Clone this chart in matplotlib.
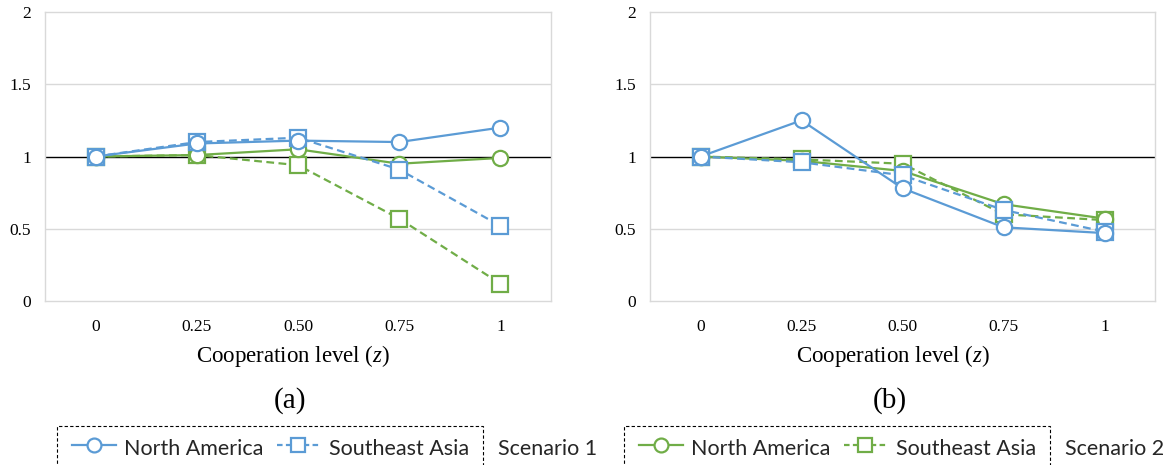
import matplotlib
matplotlib.use("Agg")
import matplotlib.pyplot as plt
from matplotlib.lines import Line2D
from matplotlib.patches import Rectangle

categories = ["0", "0.25", "0.50", "0.75", "1"]
yticks = [0, 0.5, 1, 1.5, 2]
ytick_labels = ["0", "0.5", "1", "1.5", "2"]
series_names = ["North America", "Southeast Asia"]
scenario_names = ["Scenario 1", "Scenario 2"]
panel_labels = ["(a)", "(b)"]

# Panel (a)
a_s1_na = [1.00, 1.09, 1.11, 1.10, 1.20]
a_s1_sea = [1.00, 1.10, 1.13, 0.91, 0.52]
a_s2_na = [1.00, 1.01, 1.05, 0.95, 0.99]
a_s2_sea = [1.00, 1.01, 0.94, 0.57, 0.12]

# Panel (b)
b_s1_na = [1.00, 1.25, 0.78, 0.51, 0.47]
b_s1_sea = [1.00, 0.96, 0.87, 0.63, 0.48]
b_s2_na = [1.00, 0.97, 0.90, 0.67, 0.57]
b_s2_sea = [1.00, 0.98, 0.95, 0.60, 0.56]

BLUE = "#5B9BD5"
GREEN = "#70AD47"
W, H = 1174, 465
DASH = (0, (3.5, 2))

plt.rcParams["mathtext.fontset"] = "custom"
plt.rcParams["mathtext.it"] = "Liberation Serif:italic"
plt.rcParams["mathtext.rm"] = "Liberation Serif"

fig = plt.figure(figsize=(W / 100, H / 100), dpi=100)

serif = "Liberation Serif"
sans = "Lato"

def fx(x):
    return x / W

def fy(y):
    return 1 - y / H

def px(x0, y0, x1, y1):
    return [x0 / W, 1 - y1 / H, (x1 - x0) / W, (y1 - y0) / H]

def setup(ax):
    x = list(range(len(categories)))
    ax.set_xlim(-0.5, len(categories) - 0.5)
    ax.set_ylim(0, 2)
    ax.set_xticks(x)
    ax.set_xticklabels(categories, family=serif, fontsize=12.5)
    ax.set_yticks(yticks)
    ax.set_yticklabels(ytick_labels, family=serif, fontsize=12.5)
    ax.tick_params(axis="both", length=0)
    ax.tick_params(axis="x", pad=13)
    ax.tick_params(axis="y", pad=10)
    for s in ax.spines.values():
        s.set_color("#d9d9d9")
        s.set_linewidth(1.0)
    for yv in [0.5, 1.5]:
        ax.axhline(yv, color="#d9d9d9", lw=1.0, zorder=1)
    ax.axhline(1, color="black", lw=1.0, zorder=2)
    return x

def plot_panel(ax, s1_na, s1_sea, s2_na, s2_sea):
    x = setup(ax)
    kw = dict(lw=1.6, markersize=11, markeredgewidth=1.6, markerfacecolor="white", zorder=3)
    ax.plot(x, s2_sea, color=GREEN, ls=DASH, marker="s", **kw)
    ax.plot(x, s2_na, color=GREEN, ls="-", marker="o", **kw)
    ax.plot(x, s1_sea, color=BLUE, ls=DASH, marker="s", **kw)
    ax.plot(x, s1_na, color=BLUE, ls="-", marker="o", **kw)

axa = fig.add_axes(px(45, 12, 551, 301))
axb = fig.add_axes(px(650, 12, 1155, 301))
plot_panel(axa, a_s1_na, a_s1_sea, a_s2_na, a_s2_sea)
plot_panel(axb, b_s1_na, b_s1_sea, b_s2_na, b_s2_sea)

for cx, lab in [(293, panel_labels[0]), (893, panel_labels[1])]:
    fig.text(fx(cx), fy(356), "Cooperation level ($\\mathit{z}$)", family=serif,
             fontsize=16.5, ha="center", va="center")
    fig.text(fx(cx - 3), fy(401), lab, family=serif, fontsize=21, ha="center", va="center")

# Legends (drawn in figure pixel positions)
def make_legend(color, off, scen):
    fig.add_artist(Rectangle((fx(57 + off), fy(470)), (483 - 57) / W, (470 - 426) / H,
                             transform=fig.transFigure, fill=False, edgecolor="black",
                             lw=0.8, ls=(0, (3, 2))))
    ly = fy(445)
    hkw = dict(lw=1.6, markersize=10, markeredgewidth=1.6, markerfacecolor="white",
               color=color, transform=fig.transFigure)
    fig.add_artist(Line2D([fx(72 + off), fx(116 + off)], [ly, ly], ls="-", **hkw))
    fig.add_artist(Line2D([fx(94 + off)], [ly], ls="none", marker="o", **hkw))
    fig.add_artist(Line2D([fx(277 + off), fx(320 + off)], [ly, ly], ls=(0, (2.5, 1.5)), **hkw))
    fig.add_artist(Line2D([fx(298 + off)], [ly], ls="none", marker="s", **hkw))
    fig.text(fx(124 + off), fy(455), series_names[0], family=sans, fontsize=15.5,
             ha="left", va="baseline", color="#262626")
    fig.text(fx(329 + off), fy(455), series_names[1], family=sans, fontsize=15.5,
             ha="left", va="baseline", color="#262626")
    fig.text(fx(498 + off), fy(455), scen, family=sans, fontsize=15.5,
             ha="left", va="baseline", color="#262626")

make_legend(BLUE, 0, scenario_names[0])
make_legend(GREEN, 567, scenario_names[1])

fig.savefig("out.png", dpi=100)
